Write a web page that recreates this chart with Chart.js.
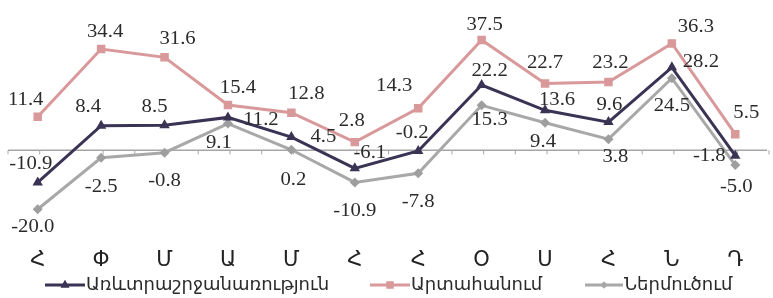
<!DOCTYPE html>
<html>
<head>
<meta charset="utf-8">
<script src="https://cdn.jsdelivr.net/npm/chart.js@4.4.0/dist/chart.umd.min.js"></script>
<style>
  html, body { margin: 0; padding: 0; background: #fff; }
  #wrap { width: 773px; height: 298px; }
</style>
</head>
<body>
<div id="wrap"><canvas id="tradeChart" width="773" height="298"></canvas></div>
<script>
// months (Armenian initials)
const months = ["Հ", "Փ", "Մ", "Ա", "Մ", "Հ", "Հ", "Օ", "Ս", "Հ", "Ն", "Դ"];

const turnover = [-10.9, 8.4, 8.5, 11.2, 4.5, -6.1, -0.2, 22.2, 13.6, 9.6, 28.2, -1.8];
const exportVals = [11.4, 34.4, 31.6, 15.4, 12.8, 2.8, 14.3, 37.5, 22.7, 23.2, 36.3, 5.5];
const importVals = [-20.0, -2.5, -0.8, 9.1, 0.2, -10.9, -7.8, 15.3, 9.4, 3.8, 24.5, -5.0];

const seriesNames = ["Առևտրաշրջանառություն", "Արտահանում", "Ներմուծում"];

// label offsets relative to the point (dx, dy), one list per series
const turnoverLblOff = [[-7,-18],[-13,-18],[-10,-18],[33,3],[32,0],[15,-15],[-6,-18],[8,-14],[12,-10],[1,-17],[29,-5],[-26,1]];
const exportLblOff = [[-12,-17],[4,-17],[13,-18],[10,-17],[15,-18],[-3,-21],[-24,-22],[3,-15],[0,-20],[2,-19],[24,-16],[11,-21]];
const importLblOff = [[-5,18],[0,30],[0,29],[-9,20],[2,30],[0,29],[0,29],[8,15],[-2,20],[7,18],[0,28],[1,22]];

const NAVY = "#3b3354", PINK = "#d9989a", GRAY = "#a8a8a8";

// zero line with small ticks
const zeroLine = {
    id: "zeroLine",
    beforeDatasetsDraw(chart) {
        const ctx = chart.ctx, area = chart.chartArea;
        const x = chart.scales.x, y = chart.scales.y;
        const y0 = y.getPixelForValue(0);
        ctx.save();
        ctx.strokeStyle = "#a6a6a6";
        ctx.lineWidth = 1.5;
        ctx.beginPath();
        ctx.moveTo(area.left + 2, y0);
        ctx.lineTo(area.right, y0);
        ctx.stroke();
        const step = x.getPixelForValue(1) - x.getPixelForValue(0);
        ctx.lineWidth = 1;
        for (let i = 0; i <= months.length * 2; i++) {
            const px = x.getPixelForValue(0) - step / 2 + i * step / 2 + 2;
            ctx.beginPath();
            ctx.moveTo(px, y0);
            ctx.lineTo(px, y0 + 4);
            ctx.stroke();
        }
        ctx.restore();
    }
};

// value labels
const valueLabels = {
    id: "valueLabels",
    afterDatasetsDraw(chart) {
        const ctx = chart.ctx;
        const offs = [turnoverLblOff, exportLblOff, importLblOff];
        ctx.save();
        ctx.font = "18px 'Liberation Serif'";
        ctx.fillStyle = "#2b2b2b";
        ctx.textAlign = "center";
        ctx.textBaseline = "middle";
        chart.data.datasets.forEach((ds, di) => {
            const meta = chart.getDatasetMeta(di);
            meta.data.forEach((pt, i) => {
                const o = offs[di][i];
                ctx.save();
                ctx.translate(pt.x + o[0], pt.y + o[1]);
                ctx.scale(1.15, 1);
                ctx.fillText(ds.data[i].toFixed(1), 0, 0);
                ctx.restore();
            });
        });
        ctx.restore();
    }
};

// legend with line + marker
const lineLegend = {
    id: "lineLegend",
    afterDraw(chart) {
        const ctx = chart.ctx;
        const items = [
            { x1: 45, x2: 85, color: NAVY, style: "triangle" },
            { x1: 370, x2: 410, color: PINK, style: "rect" },
            { x1: 585, x2: 623, color: GRAY, style: "rectRot" }
        ];
        const ly = 285;
        ctx.save();
        ctx.font = "18px 'DejaVu Sans'";
        ctx.textBaseline = "middle";
        items.forEach((it, i) => {
            ctx.strokeStyle = it.color;
            ctx.lineWidth = 3;
            ctx.beginPath();
            ctx.moveTo(it.x1, ly);
            ctx.lineTo(it.x2, ly);
            ctx.stroke();
            ctx.fillStyle = it.color;
            Chart.helpers.drawPoint(ctx, {
                pointStyle: it.style, radius: it.style === "rectRot" ? 3.5 : 5, borderWidth: 0
            }, (it.x1 + it.x2) / 2, ly);
            ctx.fill();
            ctx.fillStyle = "#2b2b2b";
            ctx.fillText(seriesNames[i], it.x2 + 1, ly);
        });
        ctx.restore();
    }
};

const ctx = document.getElementById("tradeChart").getContext("2d");
new Chart(ctx, {
    type: "line",
    data: {
        labels: months,
        datasets: [{
            label: seriesNames[0],
            data: turnover,
            order: 0,
            borderColor: NAVY,
            backgroundColor: NAVY,
            borderWidth: 3,
            pointStyle: "triangle",
            pointRadius: 6,
            pointBorderWidth: 0,
            tension: 0
        }, {
            label: seriesNames[1],
            data: exportVals,
            order: 1,
            borderColor: PINK,
            backgroundColor: PINK,
            borderWidth: 3,
            pointStyle: "rect",
            pointRadius: 6,
            pointBorderWidth: 0,
            tension: 0
        }, {
            label: seriesNames[2],
            data: importVals,
            order: 2,
            borderColor: GRAY,
            backgroundColor: "#9e9e9e",
            borderWidth: 3,
            pointStyle: "rectRot",
            pointRadius: 5,
            pointBorderWidth: 0,
            tension: 0
        }]
    },
    options: {
        responsive: false,
        animation: false,
        layout: { padding: { top: 12, left: 5, right: 0, bottom: 10 } },
        plugins: {
            legend: { display: false },
            tooltip: { enabled: false }
        },
        scales: {
            x: {
                offset: true,
                grid: { display: false, drawTicks: false },
                border: { display: false },
                ticks: {
                    color: "#222",
                    padding: 15,
                    font: { family: "DejaVu Sans", size: 21 }
                }
            },
            y: {
                display: false,
                min: -28,
                max: 47
            }
        }
    },
    plugins: [zeroLine, valueLabels, lineLegend]
});
</script>
</body>
</html>
